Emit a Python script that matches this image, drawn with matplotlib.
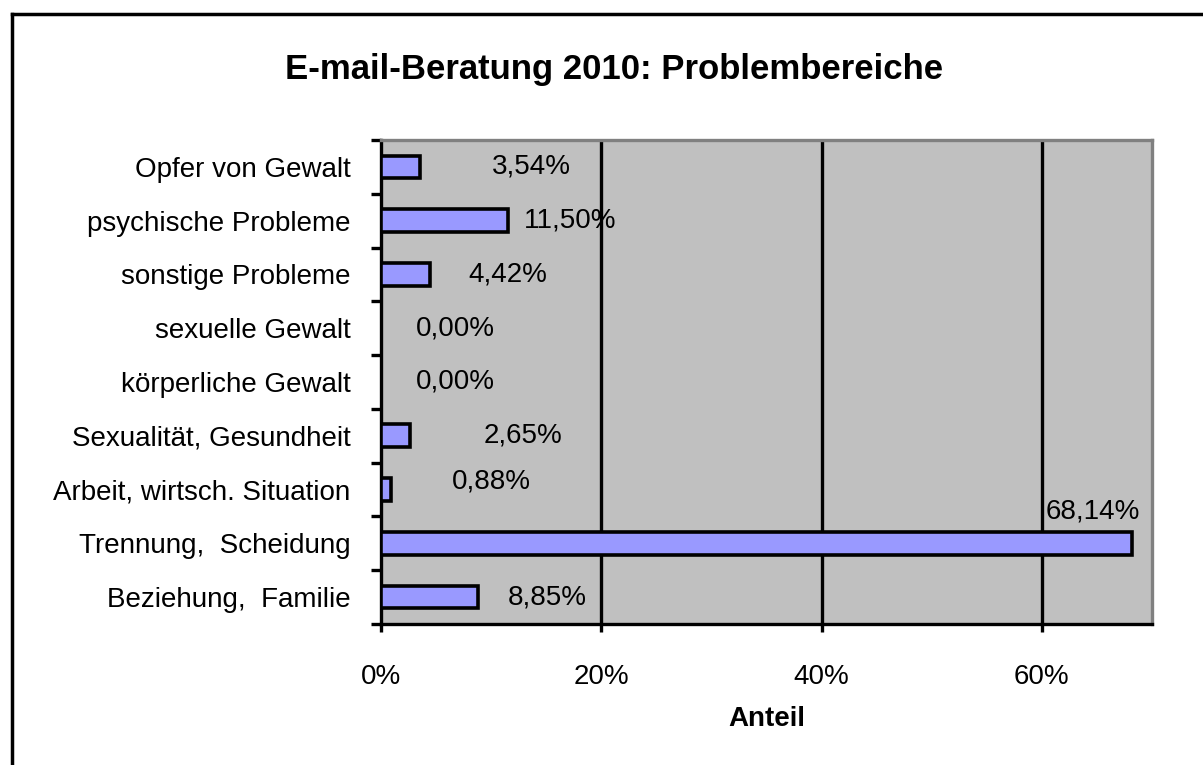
import matplotlib
matplotlib.use('Agg')
import matplotlib.pyplot as plt
from matplotlib.lines import Line2D
import numpy as np

plt.rcParams['font.family'] = ['Liberation Sans', 'DejaVu Sans']

# data (bottom to top)
categories = ['Beziehung,  Familie', 'Trennung,  Scheidung', 'Arbeit, wirtsch. Situation',
              'Sexualität, Gesundheit', 'körperliche Gewalt', 'sexuelle Gewalt',
              'sonstige Probleme', 'psychische Probleme', 'Opfer von Gewalt']
shares = [8.85, 68.14, 0.88, 2.65, 0.00, 0.00, 4.42, 11.50, 3.54]
x_ticks = [0, 20, 40, 60]

# where the data labels sit (left edge in % units, vertical shift in categories)
label_x = [11.5, 60.3, 6.4, 9.3, 3.2, 3.2, 7.9, 13.0, 10.1]
label_dy = [0.0, 0.6, 0.15, 0.0, 0.0, 0.0, 0.0, 0.0, 0.0]

FS = 20

fig = plt.figure(figsize=(12.03, 7.65), dpi=100)
ax = fig.add_axes([381 / 1203, 1 - 624 / 765, (1152 - 381) / 1203, (624 - 140) / 765])
ax.set_facecolor('#C0C0C0')

y = np.arange(len(categories))
ax.barh(y, shares, height=0.42, color='#9999FF', edgecolor='black', linewidth=2.6, zorder=3)

for yi, v, lx, dy in zip(y, shares, label_x, label_dy):
    ax.text(lx, yi + dy, f'{v:.2f}%'.replace('.', ','), ha='left', va='center',
            fontsize=FS, zorder=4)

ax.set_xlim(0, 70)
ax.set_ylim(-0.5, len(categories) - 0.5)

for gx in x_ticks[1:]:
    ax.axvline(gx, color='black', linewidth=2.4, zorder=2)

ax.set_xticks(x_ticks)
ax.set_xticklabels([f'{t}%' for t in x_ticks], fontsize=FS)
ax.set_yticks(y)
ax.set_yticklabels(categories, fontsize=FS)
ax.set_yticks(np.arange(-0.5, len(categories), 1.0), minor=True)
ax.tick_params(axis='y', which='major', length=0, pad=22)
ax.tick_params(axis='y', which='minor', length=7.5, width=2.4, color='black')
ax.tick_params(axis='x', length=6, width=2.4, pad=23)

for side in ['left', 'bottom']:
    ax.spines[side].set_color('black')
    ax.spines[side].set_linewidth(2.4)
for side in ['top', 'right']:
    ax.spines[side].set_color('#808080')
    ax.spines[side].set_linewidth(2.4)

ax.set_xlabel('Anteil', fontsize=FS, fontweight='bold', labelpad=11)
fig.text(614 / 1203, 1 - 69 / 765, 'E-mail-Beratung 2010: Problembereiche',
         ha='center', va='center', fontsize=25, fontweight='bold')

# outer chart frame (cut off at right and bottom)
fig.add_artist(Line2D([11.5 / 1203, 1.0], [1 - 14 / 765, 1 - 14 / 765],
                      transform=fig.transFigure, color='black', linewidth=2.5))
fig.add_artist(Line2D([11.5 / 1203, 11.5 / 1203], [0.0, 1 - 14 / 765],
                      transform=fig.transFigure, color='black', linewidth=2.5))

fig.savefig('out.png', dpi=100)
